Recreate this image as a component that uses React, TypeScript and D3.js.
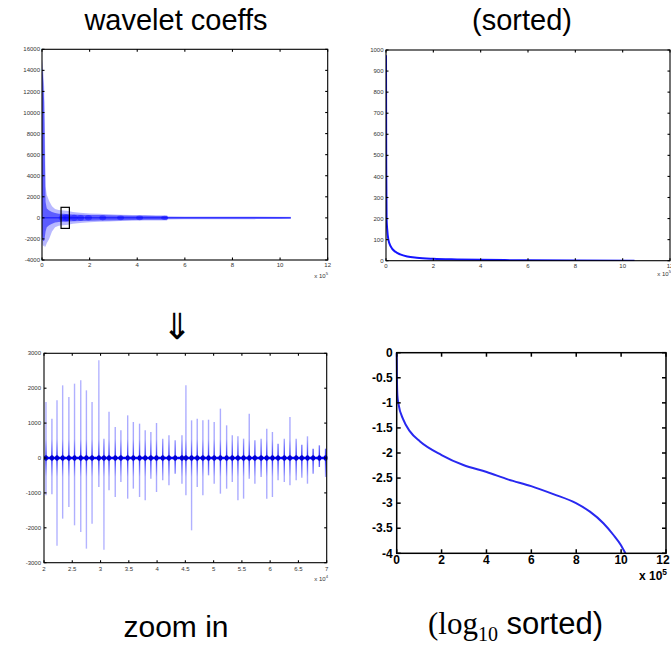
import React from 'react';
import * as d3 from 'd3';

const W = 671;
const H = 646;

// ---------- top-left: wavelet coefficients (x in units of 1e5) ----------
const coeffX = [0, 0.02, 0.05, 0.09, 0.12, 0.15, 0.2, 0.3, 0.42, 0.55, 0.7, 0.9, 1.1, 1.3, 1.6, 2.0, 2.4, 2.8, 3.3, 3.8, 4.3, 4.8, 5.24, 5.3, 6, 7, 8, 9, 10, 10.45];
const coeffHi = [14200, 15000, 14000, 12500, 9000, 3000, 2200, 1600, 1100, 850, 750, 700, 650, 560, 480, 420, 380, 340, 300, 280, 260, 250, 240, 150, 140, 130, 130, 120, 110, 100];
const coeffLo = [-2000, -2500, -2700, -2600, -2800, -2700, -2400, -2000, -1300, -900, -760, -700, -650, -560, -480, -420, -380, -340, -300, -280, -260, -250, -240, -150, -140, -130, -130, -120, -110, -100];
const coeffCoreHi = [13500, 14200, 13000, 11000, 6000, 1500, 900, 700, 550, 450, 400, 380, 350, 320, 300, 280, 260, 240, 220, 200, 190, 180, 170, 60, 60, 55, 55, 50, 50, 45];
const coeffCoreLo = [-1500, -2000, -2200, -2200, -1800, -1300, -900, -700, -550, -450, -400, -380, -350, -320, -300, -280, -260, -240, -220, -200, -190, -180, -170, -60, -60, -55, -55, -50, -50, -45];
const clusterX = [0.85, 1.0, 1.08, 1.35, 1.62, 1.95, 2.55, 3.3, 4.1, 5.15];
const clusterAmp = [300, 350, 320, 300, 280, 260, 240, 230, 220, 200];
const boxX = [0.8, 1.15];
const boxY = [-1000, 1000];
const tlXTicks = [0, 2, 4, 6, 8, 10, 12];
const tlYTicks = [-4000, -2000, 0, 2000, 4000, 6000, 8000, 10000, 12000, 14000, 16000];

// ---------- top-right: sorted magnitudes ----------
const sortedX = [0, 0.01, 0.025, 0.05, 0.1, 0.2, 0.4, 0.6, 0.9, 1.3, 2.0, 3, 4, 6, 8, 10.5];
const sortedY = [975, 450, 200, 150, 100, 68, 42, 30, 20, 14, 9, 6, 4, 2, 1, 0];
const trXTicks = [0, 2, 4, 6, 8, 10, 12];
const trYTicks = [0, 100, 200, 300, 400, 500, 600, 700, 800, 900, 1000];

// ---------- bottom-left: zoomed coefficients (x in units of 1e4) ----------
const spikeX = [2.035, 2.14, 2.23, 2.33, 2.44, 2.54, 2.65, 2.75, 2.85, 2.97, 3.06, 3.15, 3.26, 3.36, 3.48, 3.58, 3.69, 3.79, 3.89, 3.99, 4.10, 4.21, 4.32, 4.44,
  4.51, 4.61, 4.71, 4.81, 4.91, 5.01, 5.12, 5.23, 5.33, 5.43, 5.53, 5.63, 5.73, 5.84, 5.94, 6.04, 6.14, 6.25, 6.35, 6.46, 6.56, 6.66, 6.76, 6.87, 6.98];
const spikeHi = [1605, 1127, 1652, 2082, 1748, 2130, 2225, 1939, 1605, 2798, 554, 1327, 889, 793, 1222, 1031, 984, 793, 745, 1003, 554, 650, 507, 650,
  2082, 1079, 1127, 1079, 1098, 1031, 1414, 936, 650, 621, 554, 1270, 506, 554, 840, 745, 411, 554, 1175, 554, 382, 621, 267, 363, 267];
const spikeLo = [-1070, -1041, -2512, -1738, -1404, -1929, -2120, -2598, -1884, -831, -2627, -926, -1117, -688, -1165, -878, -1117, -1213, -592, -974, -640, -783, -449, -736,
  -1070, -2073, -831, -1070, -497, -736, -1022, -879, -688, -1213, -1165, -592, -736, -544, -1165, -1117, -640, -688, -783, -640, -564, -736, -449, -258, -544];
const blXTicks = [2, 2.5, 3, 3.5, 4, 4.5, 5, 5.5, 6, 6.5, 7];
const blYTicks = [-3000, -2000, -1000, 0, 1000, 2000, 3000];

// ---------- bottom-right: log10 sorted ----------
const logX = [0, 0.01, 0.03, 0.074, 0.3, 0.59, 1.04, 2.0, 2.97, 4.01, 4.98, 5.99, 6.98, 7.99, 8.61, 9.21, 9.65, 9.98, 10.19];
const logY = [0, -0.5, -0.85, -1.01, -1.34, -1.57, -1.77, -2.04, -2.24, -2.38, -2.53, -2.66, -2.82, -3.0, -3.17, -3.4, -3.63, -3.83, -4.0];
const brXTicks = [0, 2, 4, 6, 8, 10, 12];
const brYTicks = [0, -0.5, -1, -1.5, -2, -2.5, -3, -3.5, -4];

type Lin = d3.ScaleLinear<number, number>;

function Frame(props: {
  x: Lin; y: Lin; xTicks: number[]; yTicks: number[];
  fs: number; bold?: boolean; tick: number; sw: number; maxLabelX?: number;
  yLabelGap: number; xLabelBase: number; exp: string; expX: number; expY: number; color: string;
}) {
  const { x, y, xTicks, yTicks, fs, bold, tick, sw, yLabelGap, xLabelBase, exp, expX, expY, color, maxLabelX } = props;
  const [x0, x1] = x.range();
  const [y0, y1] = y.range();
  const fw = bold ? 'bold' : 'normal';
  return (
    <g>
      <rect x={x0} y={y1} width={x1 - x0} height={y0 - y1} fill="none" stroke="#000" strokeWidth={sw} />
      {xTicks.map((t) => (
        <g key={'x' + t}>
          <line x1={x(t)} x2={x(t)} y1={y0} y2={y0 - tick} stroke="#000" strokeWidth={sw} />
          <line x1={x(t)} x2={x(t)} y1={y1} y2={y1 + tick} stroke="#000" strokeWidth={sw} />
          <text x={maxLabelX !== undefined ? Math.min(x(t), maxLabelX) : x(t)} y={xLabelBase} textAnchor="middle" fontSize={fs} fontWeight={fw} fill={color}
            fontFamily="'Liberation Sans', Arial, sans-serif">{String(t)}</text>
        </g>
      ))}
      {yTicks.map((t) => (
        <g key={'y' + t}>
          <line x1={x0} x2={x0 + tick} y1={y(t)} y2={y(t)} stroke="#000" strokeWidth={sw} />
          <line x1={x1} x2={x1 - tick} y1={y(t)} y2={y(t)} stroke="#000" strokeWidth={sw} />
          <text x={x0 - yLabelGap} y={y(t)} dy="0.35em" textAnchor="end" fontSize={fs} fontWeight={fw} fill={color}
            fontFamily="'Liberation Sans', Arial, sans-serif">{String(t)}</text>
        </g>
      ))}
      <text x={expX} y={expY} textAnchor="end" fontSize={fs} fontWeight={fw} fill={color}
        fontFamily="'Liberation Sans', Arial, sans-serif">
        x 10<tspan dy={-fs * 0.45} fontSize={fs * 0.7}>{exp}</tspan>
      </text>
    </g>
  );
}

export default function App() {
  const xTL = d3.scaleLinear().domain([0, 12]).range([42, 327.7]);
  const yTL = d3.scaleLinear().domain([-4000, 16000]).range([260, 49.3]);
  const xTR = d3.scaleLinear().domain([0, 12]).range([386, 670]);
  const yTR = d3.scaleLinear().domain([0, 1000]).range([260.7, 50]);
  const xBL = d3.scaleLinear().domain([2, 7]).range([44, 326.7]);
  const yBL = d3.scaleLinear().domain([-3000, 3000]).range([562.7, 353.3]);
  const xBR = d3.scaleLinear().domain([0, 12]).range([396.7, 666]);
  const yBR = d3.scaleLinear().domain([-4, 0]).range([553.3, 352.7]);

  const idx = coeffX.map((_, i) => i);
  const outerArea = d3.area<number>().x((i) => xTL(coeffX[i])).y0((i) => yTL(coeffLo[i])).y1((i) => yTL(coeffHi[i]));
  const coreArea = d3.area<number>().x((i) => xTL(coeffX[i])).y0((i) => yTL(coeffCoreLo[i])).y1((i) => yTL(coeffCoreHi[i]));

  const sortedLine = d3.line<number>().x((i) => xTR(sortedX[i])).y((i) => yTR(sortedY[i])).curve(d3.curveMonotoneX);
  const logLine = d3.line<number>().x((i) => xBR(logX[i])).y((i) => yBR(logY[i])).curve(d3.curveMonotoneX);

  const blue = '#0000ff';
  const serif = "'Liberation Serif', 'DejaVu Serif', serif";

  return (
    <svg width={W} height={H} style={{ position: 'absolute', left: 0, top: 0, background: '#fff' }}
      fontFamily="'Liberation Sans', Arial, sans-serif">
      <defs>
        <linearGradient id="spikeGrad" gradientUnits="userSpaceOnUse" x1="0" x2="0" y1={yBL(3000)} y2={yBL(-3000)}>
          <stop offset="0" stopColor="#b8b8ff" />
          <stop offset="0.41" stopColor="#a8a8ff" />
          <stop offset="0.46" stopColor="#6464ff" />
          <stop offset="0.5" stopColor="#2020ff" />
          <stop offset="0.54" stopColor="#6464ff" />
          <stop offset="0.59" stopColor="#a8a8ff" />
          <stop offset="1" stopColor="#b8b8ff" />
        </linearGradient>
        <clipPath id="clipTR"><rect x={386} y={50} width={284} height={211} /></clipPath>
      </defs>
      <rect width={W} height={H} fill="#fff" />

      {/* Titles */}
      <text x={176} y={30} textAnchor="middle" fontSize={29}>wavelet coeffs</text>
      <text x={522} y={30} textAnchor="middle" fontSize={29}>(sorted)</text>
      <text x={177} y={339} textAnchor="middle" fontSize={36} fontFamily="'DejaVu Sans', sans-serif">⇓</text>
      <text x={176} y={637} textAnchor="middle" fontSize={30}>zoom in</text>
      <text x={428} y={634} fontSize={31}>
        <tspan fontFamily={serif}>(log</tspan>
        <tspan fontFamily={serif} fontSize={20} dy={7}>10</tspan>
        <tspan dy={-7}> sorted)</tspan>
      </text>

      {/* ---- top-left ---- */}
      <path d={outerArea(idx) || ''} fill={blue} fillOpacity={0.28} />
      <path d={coreArea(idx) || ''} fill={blue} fillOpacity={0.5} />
      {clusterX.map((c, i) => (
        <ellipse key={i} cx={xTL(c)} cy={yTL(0)} rx={3.5} ry={yTL(0) - yTL(clusterAmp[i])} fill={blue} fillOpacity={0.4} />
      ))}
      <line x1={xTL(0)} x2={xTL(10.45)} y1={yTL(0)} y2={yTL(0)} stroke={blue} strokeOpacity={0.55} strokeWidth={1.5} />
      <rect x={xTL(boxX[0])} y={yTL(boxY[1])} width={xTL(boxX[1]) - xTL(boxX[0])} height={yTL(boxY[0]) - yTL(boxY[1])}
        fill="none" stroke="#000" strokeWidth={1.2} />
      <Frame x={xTL} y={yTL} xTicks={tlXTicks} yTicks={tlYTicks} fs={6} tick={2.5} sw={1.1}
        yLabelGap={2} xLabelBase={267} exp="5" expX={328} expY={278} color="#333" />

      {/* ---- top-right ---- */}
      <g clipPath="url(#clipTR)">
        <path d={sortedLine(sortedX.map((_, i) => i)) || ''} fill="none" stroke="#1414ff" strokeWidth={2} />
      </g>
      <Frame x={xTR} y={yTR} xTicks={trXTicks} yTicks={trYTicks} fs={6} tick={2.5} sw={1.1}
        yLabelGap={2.5} xLabelBase={268} exp="5" expX={671} expY={276} color="#333" />

      {/* ---- bottom-left ---- */}
      {spikeX.map((sx, i) => (
        <line key={i} x1={xBL(sx)} x2={xBL(sx)} y1={yBL(spikeLo[i])} y2={yBL(spikeHi[i])}
          stroke="url(#spikeGrad)" strokeWidth={1.4} />
      ))}
      <line x1={xBL(2)} x2={xBL(7)} y1={yBL(0)} y2={yBL(0)} stroke={blue} strokeWidth={2.4} />
      {spikeX.map((sx, i) => (
        <ellipse key={'b' + i} cx={xBL(sx)} cy={yBL(0)} rx={2} ry={2.8} fill="#0000d0" />
      ))}
      <Frame x={xBL} y={yBL} xTicks={blXTicks} yTicks={blYTicks} fs={6} tick={2.5} sw={1.1}
        yLabelGap={3} xLabelBase={571} exp="4" expX={328} expY={581} color="#333" />

      {/* ---- bottom-right ---- */}
      <path d={logLine(logX.map((_, i) => i)) || ''} fill="none" stroke="#2828f0" strokeWidth={2} />
      <Frame x={xBR} y={yBR} xTicks={brXTicks} yTicks={brYTicks} fs={12} bold tick={4} sw={1.5} maxLabelX={663}
        yLabelGap={4} xLabelBase={564} exp="5" expX={667} expY={580} color="#000" />
    </svg>
  );
}
